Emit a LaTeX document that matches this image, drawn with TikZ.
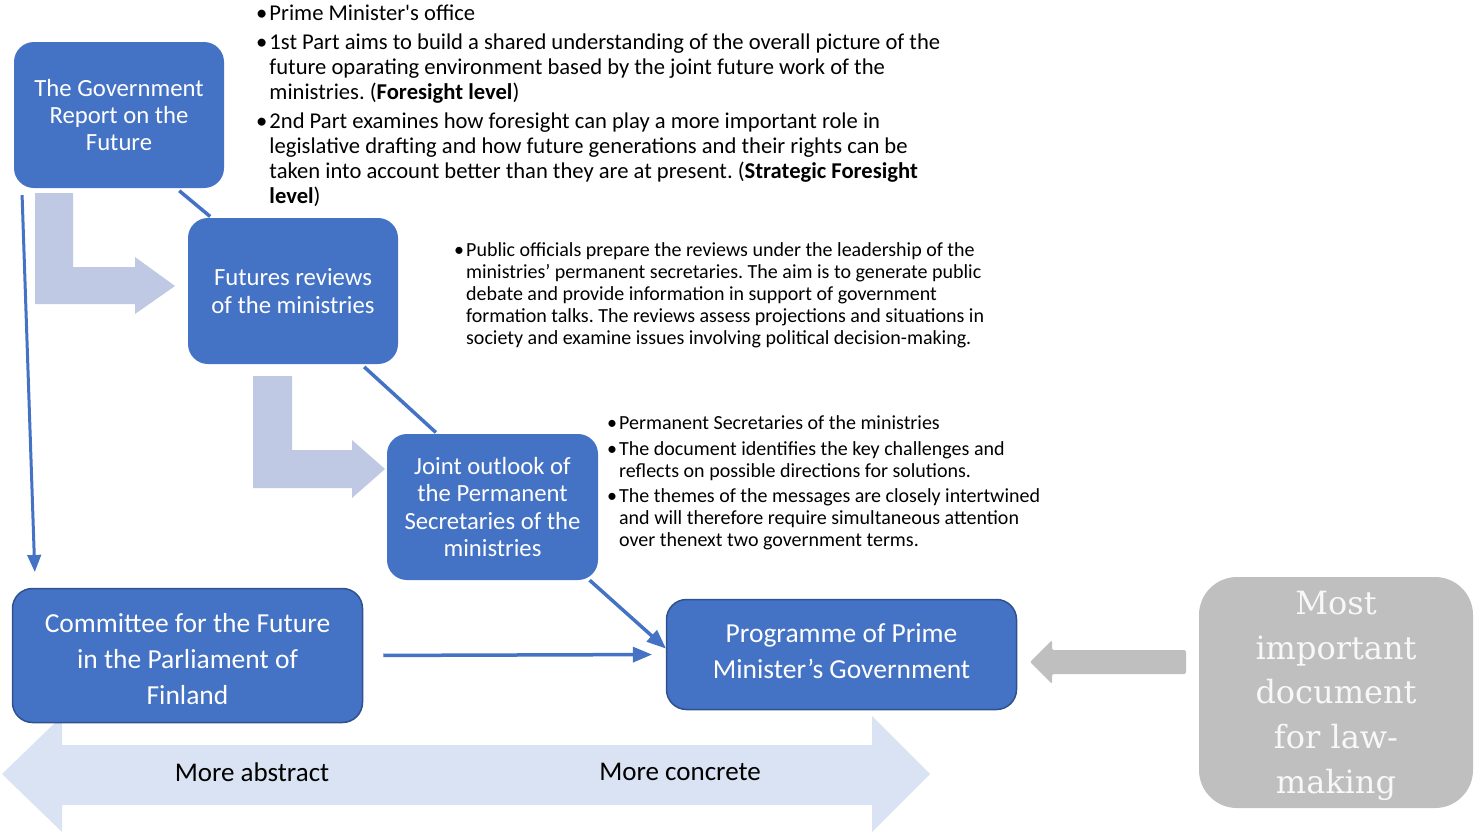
\documentclass[tikz,border=0pt]{standalone}
\usepackage{fontspec}
\setsansfont{Carlito}
\newfontfamily\lawfont{DejaVu Serif}
\renewcommand{\familydefault}{\sfdefault}
\frenchspacing
\usetikzlibrary{positioning}
\usetikzlibrary{arrows}
\definecolor{boxblue}{RGB}{68,114,196}
\definecolor{edgeblue}{RGB}{47,82,143}
\definecolor{stepblue}{RGB}{191,201,228}
\definecolor{paleblue}{RGB}{218,227,243}
\definecolor{docgrey}{RGB}{191,191,191}
\definecolor{docwhite}{RGB}{248,248,248}
\newcommand{\fs}[2]{\fontsize{#1}{#2}\selectfont}

\begin{document}
\begin{tikzpicture}[x=1pt,y=-1pt,
  bluebox/.style={rectangle,rounded corners=20pt,fill=boxblue,text=white,
    align=center,inner sep=0pt},
  lawbox/.style={rectangle,rounded corners=38pt,fill=docgrey,text=docwhite,
    align=center,inner sep=0pt,font=\lawfont\fs{32}{44.7}},
  link/.style={draw=boxblue,line width=3.5pt},
  notes/.style={anchor=north west,inner sep=0pt,align=left}]
\useasboundingbox (0,0) rectangle (1480,835);

% block arrows behind the boxes
\fill[paleblue] (2,774) -- (62,716) -- (62,745) -- (872,745) -- (872,716)
  -- (930,774) -- (872,832) -- (872,805) -- (62,805) -- (62,832) -- cycle;
\fill[stepblue] (35,193) -- (73,193) -- (73,267) -- (135,267) -- (135,257)
  -- (175,286) -- (135,314) -- (135,304) -- (35,304) -- cycle;
\fill[stepblue] (253,376) -- (292,376) -- (292,450) -- (352,450) -- (352,440)
  -- (385,469) -- (352,498) -- (352,488) -- (253,488) -- cycle;
\fill[docgrey,rounded corners=2pt] (1186,650) -- (1052,650) -- (1052,640)
  -- (1030,662) -- (1052,684) -- (1052,674) -- (1186,674) -- cycle;

\node (report) at (119,115) [bluebox,minimum width=210pt,minimum height=146pt,
  font=\fs{24.7}{27}] {The Government\\Report on the\\Future};
\node (reviews) at (293,291) [bluebox,minimum width=210pt,minimum height=146pt,
  font=\fs{24.7}{28}] {Futures reviews\\of the ministries};
\node (outlook) at (492.5,507) [bluebox,minimum width=211pt,minimum height=146pt,
  font=\fs{24.7}{27.5}] {Joint outlook of\\the Permanent\\Secretaries of the\\ministries};
\node (committee) at (187.5,655.5) [bluebox,draw=edgeblue,line width=1.5pt,
  minimum width=350pt,minimum height=134pt,font=\fs{27.5}{36}]
  {\vphantom{C}\\[-28pt]Committee for the Future\\in the Parliament of\\Finland};
\node (programme) at (841.5,654.5) [bluebox,draw=edgeblue,line width=1.5pt,
  minimum width=350pt,minimum height=110pt,font=\fs{27.5}{36}]
  {Programme of Prime\\Minister’s Government\\[-29pt]\vphantom{M}};
\node (lawdoc) at (1336,692.5) [lawbox,minimum width=274pt,minimum height=231pt]
  {\vphantom{M}\\[-38pt]Most\\important\\document\\for law-\\making};

\node (abstract) at (252,772) [font=\fs{27}{33}] {More abstract};
\node (concrete) at (680,772) [font=\fs{27}{33}] {More concrete};

\node (pmnotes) at (256,3) [notes,font=\fs{22.6}{25}] {\begin{tabular}{@{}l@{\hspace{2pt}}l@{}}
\textbullet & Prime Minister\textquotesingle s office\\[4pt]
\textbullet & 1st Part aims to build a shared understanding of the overall picture of the\\
 & future oparating environment based by the joint future work of the\\
 & ministries. (\textbf{Foresight level})\\[4pt]
\textbullet & 2nd Part examines how foresight can play a more important role in\\
 & legislative drafting and how future generations and their rights can be\\
 & taken into account better than they are at present. (\textbf{Strategic Foresight}\\
 & \textbf{level})
\end{tabular}};

\node (reviewnotes) at (454,240.5) [notes,font=\fs{20}{22}] {\begin{tabular}{@{}l@{\hspace{2pt}}l@{}}
\textbullet & Public officials prepare the reviews under the leadership of the\\
 & ministries’ permanent secretaries. The aim is to generate public\\
 & debate and provide information in support of government\\
 & formation talks. The reviews assess projections and situations in\\
 & society and examine issues involving political decision-making.
\end{tabular}};

\node (outlooknotes) at (607,414) [notes,font=\fs{20}{22}] {\begin{tabular}{@{}l@{\hspace{2pt}}l@{}}
\textbullet & Permanent Secretaries of the ministries\\[4pt]
\textbullet & The document identifies the key challenges and\\
 & reflects on possible directions for solutions.\\[3pt]
\textbullet & The themes of the messages are closely intertwined\\
 & and will therefore require simultaneous attention\\
 & over thenext two government terms.
\end{tabular}};

\draw [link,shorten <=4pt,shorten >=2pt] (report.-52.5)--(reviews.138.6);
\draw [link,shorten <=4pt,shorten >=2pt] (reviews.-47.3)--(outlook.127.5);
\draw [link,-triangle 45] (outlook.-37.4)--(programme.178.5);
\draw [link,-triangle 45,shorten <=20pt,shorten >=14pt] (committee.east)--(programme.west);
\draw [link,line width=3pt,-triangle 45,shorten <=7pt,shorten >=16pt]
  (report.-143.6)--(committee.156.8);

\end{tikzpicture}
\end{document}
